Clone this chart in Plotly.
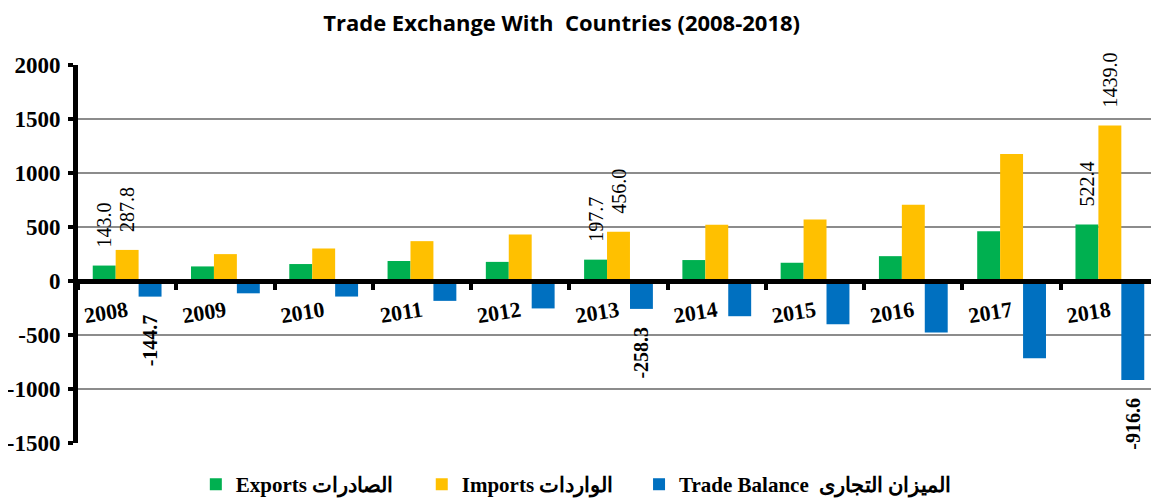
import plotly.graph_objects as go

years = ["2008", "2009", "2010", "2011", "2012", "2013", "2014", "2015", "2016", "2017", "2018"]
exports = [143.0, 135, 157, 185, 177, 197.7, 194, 169, 230, 461, 522.4]
imports = [287.8, 249, 301, 369, 431, 456.0, 520, 569, 707, 1177, 1439.0]
balance = [-144.7, -114, -144, -184, -254, -258.3, -326, -400, -477, -716, -916.6]
labelled_years = ["2008", "2013", "2018"]

series_names = ["Exports الصادرات", "Imports الواردات", "Trade Balance  الميزان التجارى"]
colors = ["#00B050", "#FFC000", "#0070C0"]
y_ticks = [-1500, -1000, -500, 0, 500, 1000, 1500, 2000]

SERIF = "Liberation Serif, Times New Roman, serif"
PAD = "\u00a0\u00a0\u00a0"


def labels(vals):
    out = []
    for y, v in zip(years, vals):
        if y not in labelled_years:
            out.append("")
        elif v >= 0:
            out.append(PAD + f"{v:.1f}")
        else:
            out.append(f"{v:.1f}" + PAD)
    return out


legend_ids = ["legend", "legend2", "legend3"]
legend_x = [0.109, 0.318, 0.519]

fig = go.Figure()
for name, vals, col, bold, lg in zip(series_names, [exports, imports, balance], colors,
                                     [False, False, True], legend_ids):
    fig.add_trace(go.Bar(
        x=years, y=vals, name=name, marker=dict(color=col, line=dict(width=0)),
        text=labels(vals), textposition="outside", textangle=-90,
        constraintext="none", cliponaxis=False, legend=lg,
        textfont=dict(family=SERIF, size=20, color="black", weight="bold" if bold else "normal"),
    ))

legend_style = dict(orientation="h", xanchor="left", y=-0.11, yanchor="middle",
                    font=dict(family=SERIF, size=21, color="black", weight="bold"),
                    itemwidth=30, bgcolor="rgba(0,0,0,0)")

fig.update_layout(
    width=1151, height=493,
    margin=dict(l=70, r=0, t=57, b=58, autoexpand=False),
    paper_bgcolor="white", plot_bgcolor="white",
    barmode="group", bargap=0.3, bargroupgap=0,
    title=dict(text="<b>Trade Exchange With  Countries (2008-2018)</b>",
               x=0.481, xanchor="center", y=1 - 15 / 493, yanchor="middle",
               font=dict(family="Open Sans, Arial, sans-serif", size=22, color="black")),
    showlegend=True,
    legend=dict(x=legend_x[0], **legend_style),
    legend2=dict(x=legend_x[1], **legend_style),
    legend3=dict(x=legend_x[2], **legend_style),
    xaxis=dict(type="category", anchor="free", position=1500 / 3500, automargin=False,
               showline=True, linewidth=5, linecolor="black",
               ticks="outside", tickson="boundaries", ticklen=6, tickwidth=4, tickcolor="black",
               tickangle=-9, showgrid=False, ticklabelstandoff=6,
               tickfont=dict(family=SERIF, size=22, color="black", weight="bold")),
    yaxis=dict(range=[-1500, 2000], tickvals=y_ticks, ticktext=[str(v) for v in y_ticks],
               automargin=False,
               showline=True, linewidth=5, linecolor="black",
               ticks="outside", ticklen=5, tickwidth=4, tickcolor="black",
               showgrid=True, gridcolor="#8c8c8c", gridwidth=1.5,
               zeroline=True, zerolinecolor="black", zerolinewidth=5,
               ticklabelstandoff=3,
               tickfont=dict(family=SERIF, size=23, color="black", weight="bold")),
)

fig.write_html("out.html")
